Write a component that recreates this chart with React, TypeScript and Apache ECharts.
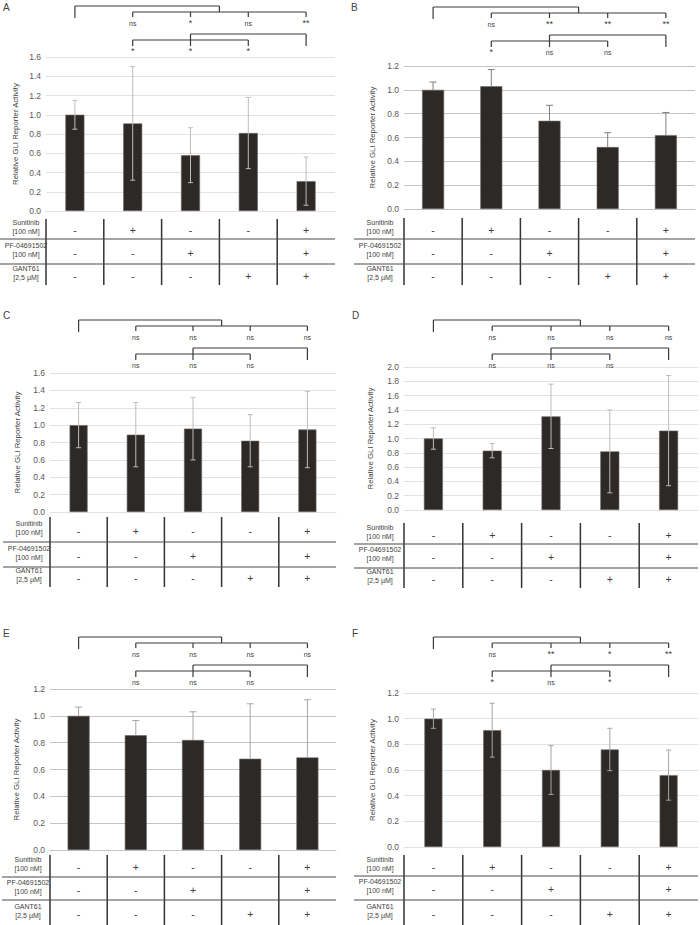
import React, { useEffect, useRef } from "react";
import * as echarts from "echarts";

// ---- data ----
const categories = ["Control", "Sunitinib", "PF-04691502", "GANT61", "Sunitinib + PF-04691502 + GANT61"];
const panelLetters = ["A", "B", "C", "D", "E", "F"];

const meansA = [1.0, 0.91, 0.58, 0.81, 0.31];
const errA = [0.15, 0.59, 0.285, 0.37, 0.25];
const meansB = [1.0, 1.03, 0.74, 0.52, 0.62];
const errB = [0.065, 0.14, 0.13, 0.12, 0.19];
const meansC = [1.0, 0.89, 0.96, 0.82, 0.95];
const errC = [0.26, 0.37, 0.36, 0.3, 0.44];
const meansD = [1.0, 0.83, 1.31, 0.82, 1.11];
const errD = [0.15, 0.1, 0.45, 0.58, 0.77];
const meansE = [1.0, 0.855, 0.82, 0.68, 0.69];
const errE = [0.065, 0.11, 0.21, 0.41, 0.43];
const meansF = [1.0, 0.91, 0.6, 0.76, 0.56];
const errF = [0.075, 0.21, 0.19, 0.165, 0.195];

const yMaxes = [1.6, 1.2, 1.6, 2.0, 1.2, 1.2];
const upwardOnly = [false, true, false, false, true, false];

const sigUpperA = ["ns", "*", "ns", "**"];
const sigLowerA = ["*", "*", "*"];
const sigUpperB = ["ns", "**", "**", "**"];
const sigLowerB = ["*", "ns", "ns"];
const sigUpperC = ["ns", "ns", "ns", "ns"];
const sigLowerC = ["ns", "ns", "ns"];
const sigUpperD = ["ns", "ns", "ns", "ns"];
const sigLowerD = ["ns", "ns", "ns"];
const sigUpperE = ["ns", "ns", "ns", "ns"];
const sigLowerE = ["ns", "ns", "ns"];
const sigUpperF = ["ns", "**", "*", "**"];
const sigLowerF = ["*", "ns", "*"];

const rowLabels = ["Sunitinib\n[100 nM]", "PF-04691502\n[100 nM]", "GANT61\n[2,5 µM]"];
const sunitinibRow = ["-", "+", "-", "-", "+"];
const pfRow = ["-", "-", "+", "", "+"];
const gantRow = ["-", "-", "-", "+", "+"];
const yTitle = "Relative GLI Reporter Activity";

const panels = [
  { means: meansA, err: errA, up: sigUpperA, low: sigLowerA },
  { means: meansB, err: errB, up: sigUpperB, low: sigLowerB },
  { means: meansC, err: errC, up: sigUpperC, low: sigLowerC },
  { means: meansD, err: errD, up: sigUpperD, low: sigLowerD },
  { means: meansE, err: errE, up: sigUpperE, low: sigLowerE },
  { means: meansF, err: errF, up: sigUpperF, low: sigLowerF },
];

// ---- layout ----
const layouts = [
  { left: 46, top: 57, width: 289, height: 154, bk: 6, t: [219, 239, 264, 285], lx: 26, tx: 15, letter: [3, 2], barW: 19, grid: "#e2e2e2", errC: "#bdbdbd" },
  { left: 404, top: 66, width: 291, height: 143, bk: 7, t: [218, 239, 264, 285], lx: 380, tx: 372, letter: [351, 2], barW: 22, grid: "#c4c4c4", errC: "#7f7f7f" },
  { left: 50, top: 373, width: 286, height: 139, bk: 320, t: [517, 542, 567, 587], lx: 29, tx: 17, letter: [3, 310], barW: 18, grid: "#e2e2e2", errC: "#bdbdbd" },
  { left: 404, top: 367, width: 294, height: 143, bk: 320, t: [523, 544, 568, 588], lx: 380, tx: 370, letter: [352, 310], barW: 19, grid: "#e2e2e2", errC: "#bdbdbd" },
  { left: 50, top: 689, width: 286, height: 161, bk: 637, t: [855, 877, 900, 925], lx: 28, tx: 16, letter: [3, 628], barW: 22, grid: "#c4c4c4", errC: "#a6a6a6" },
  { left: 404, top: 693, width: 294, height: 154, bk: 637, t: [855, 876, 900, 925], lx: 380, tx: 372, letter: [352, 628], barW: 18, grid: "#e2e2e2", errC: "#a6a6a6" },
];

const FONT = "Liberation Sans, Arial, sans-serif";
const LINE = "#3a3a3a";
const TXT = "#404040";

export default function App() {
  const ref = useRef<HTMLDivElement>(null);
  useEffect(() => {
    const chart = echarts.init(ref.current!, undefined, { renderer: "svg" });
    const grid = layouts.map((l) => ({ left: l.left, top: l.top, width: l.width, height: l.height }));
    const xAxis = layouts.map((l, i) => ({
      type: "category",
      gridIndex: i,
      data: categories,
      axisLine: { show: true, lineStyle: { color: l.grid, width: 1 } },
      axisTick: { show: false },
      axisLabel: { show: false },
    }));
    const yAxis = layouts.map((l, i) => ({
      type: "value",
      gridIndex: i,
      min: 0,
      max: yMaxes[i],
      interval: 0.2,
      axisLine: { show: false },
      axisTick: { show: false },
      splitLine: { lineStyle: { color: l.grid, width: 1 } },
      axisLabel: {
        formatter: (v: number) => v.toFixed(1),
        fontSize: 8.5,
        color: "#595959",
        fontFamily: FONT,
        margin: 5,
      },
    }));
    const series: any[] = [];
    panels.forEach((p, i) => {
      const l = layouts[i];
      series.push({
        type: "bar",
        xAxisIndex: i,
        yAxisIndex: i,
        data: p.means,
        barWidth: l.barW,
        itemStyle: { color: "#2d2926", borderColor: "#6b6763", borderWidth: 0.6 },
        z: 2,
      });
      const upOnly = upwardOnly[i];
      series.push({
        type: "custom",
        xAxisIndex: i,
        yAxisIndex: i,
        data: p.means.map((m, k) => [k, m, p.err[k]]),
        encode: { x: 0, y: 1 },
        z: 5,
        renderItem: (params: any, api: any) => {
          const x = api.value(0);
          const m = api.value(1);
          const e = api.value(2);
          const top = api.coord([x, m + e]);
          const bot = api.coord([x, upOnly ? m : Math.max(0, m - e)]);
          const hw = upOnly ? 3.5 : 2.5;
          const st = { stroke: l.errC, lineWidth: 1 };
          const ch: any[] = [
            { type: "line", shape: { x1: top[0], y1: top[1], x2: bot[0], y2: bot[1] }, style: st },
            { type: "line", shape: { x1: top[0] - hw, y1: top[1], x2: top[0] + hw, y2: top[1] }, style: st },
          ];
          if (!upOnly) ch.push({ type: "line", shape: { x1: bot[0] - hw, y1: bot[1], x2: bot[0] + hw, y2: bot[1] }, style: st });
          return { type: "group", children: ch };
        },
      });
    });
    chart.setOption({ animation: false, grid, xAxis, yAxis, series });

    const g: any[] = [];
    const L = (x1: number, y1: number, x2: number, y2: number, color = LINE, w = 1.2) =>
      g.push({ type: "line", shape: { x1, y1, x2, y2 }, style: { stroke: color, lineWidth: w }, z: 10 });
    const T = (x: number, y: number, text: string, size: number, extra: any = {}) =>
      g.push({
        type: "text",
        x,
        y,
        z: 10,
        style: { text, fontSize: size, fontFamily: FONT, fill: TXT, align: "center", verticalAlign: "middle", ...extra },
      });

    layouts.forEach((l, p) => {
      const xs = [0, 1, 2, 3, 4].map((i) => chart.convertToPixel({ xAxisIndex: p } as any, i) as number);
      const step = xs[1] - xs[0];
      const b = l.bk;
      const mid23 = (xs[2] + xs[3]) / 2;
      // upper bracket group
      L(xs[0], b, mid23, b);
      L(xs[0], b, xs[0], b + 12);
      L(mid23, b, mid23, b + 6);
      L(xs[1], b + 6, xs[4], b + 6);
      for (let i = 1; i <= 4; i++) L(xs[i], b + 6, xs[i], b + 11);
      panels[p].up.forEach((s, k) => T(xs[k + 1], b + 17, s, s === "ns" ? 7 : 9));
      // lower bracket group
      L(xs[2], b + 28, xs[4], b + 28);
      L(xs[4], b + 28, xs[4], b + 40);
      L(xs[2], b + 28, xs[2], b + 40);
      L(xs[1], b + 34, xs[3], b + 34);
      L(xs[1], b + 34, xs[1], b + 40);
      L(xs[3], b + 34, xs[3], b + 40);
      panels[p].low.forEach((s, k) => T(xs[k + 1], b + 45, s, s === "ns" ? 7 : 9));

      // table
      const right = l.left + l.width;
      for (let i = 0; i < 5; i++) {
        const bx = xs[i] - step / 2;
        L(bx, l.t[0], bx, l.t[3], "#333333", 1.5);
      }
      L(l.lx - 26, l.t[1], right, l.t[1], "#4a4a4a", 1.2);
      L(l.lx - 26, l.t[2], right, l.t[2], "#4a4a4a", 1.2);
      const rows = [sunitinibRow, pfRow, gantRow];
      rows.forEach((row, r) => {
        const cy = (l.t[r] + l.t[r + 1]) / 2;
        T(l.lx, cy - 2, rowLabels[r], 7, { lineHeight: 9, fill: "#404040" });
        row.forEach((s, i) => {
          if (s) T(xs[i], cy + 1, s, 10.5, { fill: "#404040" });
        });
      });

      // y-axis title
      g.push({
        type: "text",
        x: l.tx,
        y: l.top + l.height / 2,
        rotation: Math.PI / 2,
        z: 10,
        style: { text: yTitle, fontSize: 7.8, fontFamily: FONT, fill: "#404040", align: "center", verticalAlign: "middle" },
      });
      // panel letter
      g.push({
        type: "text",
        x: l.letter[0],
        y: l.letter[1],
        z: 10,
        style: { text: panelLetters[p], fontSize: 10, fontFamily: FONT, fill: "#404040", align: "left", verticalAlign: "top" },
      });
    });
    chart.setOption({ graphic: g });
    return () => chart.dispose();
  }, []);
  return <div ref={ref} style={{ position: "absolute", left: 0, top: 0, width: 700, height: 925, background: "#fff" }} />;
}
